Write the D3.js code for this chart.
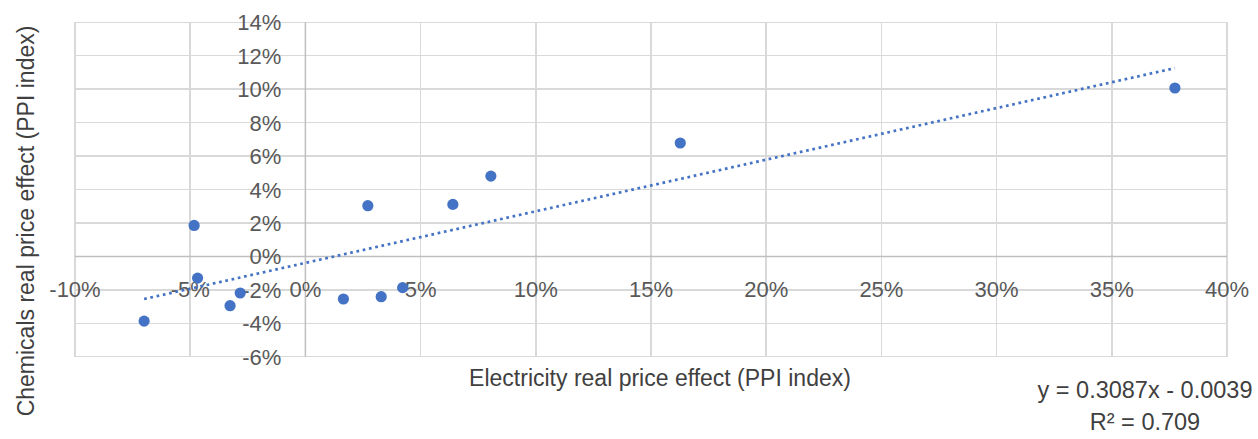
<!doctype html>
<html lang="en">
<head>
<meta charset="utf-8">
<title>Electricity vs chemicals real price effect</title>
<script src="https://cdn.jsdelivr.net/npm/d3@7"></script>
<style>
	body { margin: 0; background: #fff; }
	text { font-family: "Liberation Sans", Arial, sans-serif; }
	.tick-label { fill: #595959; font-size: 22px; }
	.title { fill: #404040; font-size: 23px; }
	.eq { fill: #404040; font-size: 23.5px; }
	.grid line { stroke: #d9d9d9; stroke-width: 1.5; shape-rendering: crispEdges; }
</style>
</head>
<body>
<div id="viz"></div>
<script>
// Electricity real price effect (x) vs chemicals real price effect (y), PPI index
var elecEffect = [-0.070, -0.0483, -0.0468, -0.0327, -0.0283, 0.0165, 0.0271, 0.0329, 0.0422, 0.0640, 0.0805, 0.1627, 0.3774];
var chemEffect = [-0.0387, 0.0185, -0.0130, -0.0295, -0.0219, -0.0255, 0.0303, -0.0241, -0.0187, 0.0311, 0.0480, 0.0678, 0.1007];

var xTicks = [-0.10, -0.05, 0, 0.05, 0.10, 0.15, 0.20, 0.25, 0.30, 0.35, 0.40];
var yTicks = [-0.06, -0.04, -0.02, 0, 0.02, 0.04, 0.06, 0.08, 0.10, 0.12, 0.14];

var trendSlope = 0.3087,
	trendIntercept = -0.0039;
var trendLabels = ["y = 0.3087x - 0.0039", "R\u00b2 = 0.709"];

(function(d3) {

	var w = 1258,
		h = 439;
	var margin = {top: 22.3, right: 31, bottom: 82.3, left: 75};

	var pct = d => Math.round(d * 100) + "%";

	var xScale = d3.scaleLinear()
		.domain([-0.10, 0.40])
		.range([margin.left, w - margin.right]);

	var yScale = d3.scaleLinear()
		.domain([-0.06, 0.14])
		.range([h - margin.bottom, margin.top]);

	var svg = d3.select("#viz")
		.append("svg")
		.attr("width", w)
		.attr("height", h);

	// gridlines + plot border
	var grid = svg.append("g").attr("class", "grid");
	grid.selectAll("line.v")
		.data(xTicks)
		.enter()
		.append("line")
		.attr("x1", d => xScale(d)).attr("x2", d => xScale(d))
		.attr("y1", yScale.range()[0]).attr("y2", yScale.range()[1]);
	grid.selectAll("line.h")
		.data(yTicks)
		.enter()
		.append("line")
		.attr("x1", xScale.range()[0]).attr("x2", xScale.range()[1])
		.attr("y1", d => yScale(d)).attr("y2", d => yScale(d));

	// zero axes a touch darker
	svg.append("line")
		.attr("x1", xScale(0)).attr("x2", xScale(0))
		.attr("y1", yScale.range()[0]).attr("y2", yScale.range()[1])
		.style("stroke", "#bfbfbf").style("stroke-width", 1.5);
	svg.append("line")
		.attr("x1", xScale.range()[0]).attr("x2", xScale.range()[1])
		.attr("y1", yScale(0)).attr("y2", yScale(0))
		.style("stroke", "#bfbfbf").style("stroke-width", 1.5);

	// tick labels sit on the zero axes, Excel style
	svg.selectAll("text.xt")
		.data(xTicks)
		.enter()
		.append("text")
		.attr("class", "tick-label")
		.attr("x", d => xScale(d))
		.attr("y", yScale(0) + 41)
		.attr("text-anchor", "middle")
		.text(pct);

	svg.selectAll("text.yt")
		.data(yTicks)
		.enter()
		.append("text")
		.attr("class", "tick-label")
		.attr("x", xScale(0) - 24)
		.attr("y", d => yScale(d) + 8)
		.attr("text-anchor", "end")
		.text(pct);

	// linear trendline across the data range
	var trendX = d3.extent(elecEffect);
	svg.append("line")
		.attr("x1", xScale(trendX[0]))
		.attr("y1", yScale(trendSlope * trendX[0] + trendIntercept))
		.attr("x2", xScale(trendX[1]))
		.attr("y2", yScale(trendSlope * trendX[1] + trendIntercept))
		.style("stroke", "#4472c4")
		.style("stroke-width", 2.7)
		.style("stroke-dasharray", "2.7 3.7");

	// points
	svg.selectAll("circle")
		.data(elecEffect.map((x, i) => [x, chemEffect[i]]))
		.enter()
		.append("circle")
		.attr("cx", d => xScale(d[0]))
		.attr("cy", d => yScale(d[1]))
		.attr("r", 5.6)
		.style("fill", "#4472c4");

	// axis titles
	svg.append("text")
		.attr("class", "title")
		.attr("x", 660)
		.attr("y", 386)
		.attr("text-anchor", "middle")
		.text("Electricity real price effect (PPI index)");

	svg.append("text")
		.attr("class", "title")
		.attr("transform", "translate(34,221) rotate(-90)")
		.attr("text-anchor", "middle")
		.text("Chemicals real price effect (PPI index)");

	// trendline equation
	svg.selectAll("text.eq")
		.data(trendLabels)
		.enter()
		.append("text")
		.attr("class", "eq")
		.attr("x", 1145)
		.attr("y", (d, i) => 398 + i * 32)
		.attr("text-anchor", "middle")
		.text(d => d);

})(d3);
</script>
</body>
</html>
